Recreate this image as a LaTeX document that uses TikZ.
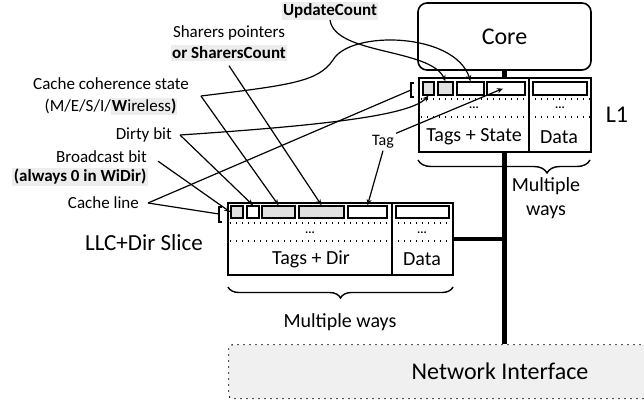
\documentclass[tikz,border=0pt]{standalone}
\usepackage{fontspec}
\setmainfont{Carlito}
\usetikzlibrary{arrows.meta,decorations.pathreplacing}
\definecolor{hlgray}{gray}{0.93}
\definecolor{cellgray}{gray}{0.88}
\definecolor{nigray}{gray}{0.94}
\setlength{\fboxsep}{1pt}

\begin{document}
\begin{tikzpicture}[x=1pt, y=-1pt,
    cell/.style={draw, line width=1.5pt, inner sep=0pt, minimum height=13pt},
    blk/.style={draw, line width=1.6pt, fill=white, inner sep=0pt},
    lbl/.style={font=\fontsize{17}{22}\selectfont, inner sep=2pt},
    big/.style={font=\fontsize{24}{28}\selectfont},
    mid/.style={font=\fontsize{20}{24}\selectfont},
    hl/.style={fill=hlgray, inner sep=1.5pt},
    dots/.style={line width=1.2pt, dash pattern=on 1.2pt off 4.8pt},
    wire/.style={line width=1.2pt},
    arr/.style={wire, -{Stealth[length=6pt, width=5pt]}},
    bus/.style={line width=4.5pt},
    brc/.style={decorate, line width=1.4pt}]
  \useasboundingbox (0,0) rectangle (644,407);

  % core, network interface and the bus
  \node[blk, rounded corners=9pt, minimum width=173pt, minimum height=67pt, big] (core) at (504.5,36.5) {Core};
  \node[draw, dots, fill=nigray, rounded corners=4pt, anchor=north west,
    minimum width=440pt, minimum height=54pt] (ni) at (228,344) {};
  \node[big] (nitxt) at (500,371) {Network Interface};
  \draw[bus] (core.south) -- (core.south |- ni.north);

  % L1
  \node[blk, minimum width=110pt, minimum height=74pt] (l1tags) at (474,115) {};
  \node[blk, minimum width=62pt, minimum height=74pt] (l1data) at (560,115) {};
  \draw[dots] (421,99) -- (590,99); \draw[dots] (421,117) -- (590,117);
  \node[font=\bfseries\fontsize{12}{12}\selectfont] at (474,108) {...};
  \node[font=\bfseries\fontsize{12}{12}\selectfont] at (560,108) {...};
  \node[mid] at (474,137) {Tags + State}; \node[mid] at (559,137) {Data};
  \node[big] (l1) at (617,115) {L1};

  % LLC slice
  \node[blk, minimum width=164pt, minimum height=72pt] (lctags) at (310,239) {};
  \node[blk, minimum width=61pt, minimum height=72pt] (lcdata) at (422.5,239) {};
  \draw[bus] (lcdata.east) -- (lcdata.east -| core.south);
  \draw[dots] (230,223) -- (452,223); \draw[dots] (230,241) -- (452,241);
  \node[font=\bfseries\fontsize{12}{12}\selectfont] at (310,233) {...};
  \node[font=\bfseries\fontsize{12}{12}\selectfont] at (422,233) {...};
  \node[mid] at (311,259) {Tags + Dir}; \node[mid] at (422,259) {Data};
  \node[font=\fontsize{23}{27}\selectfont] (llc) at (144,243) {LLC+Dir Slice};

  \begin{scope}[every node/.style={cell}]
    \node[fill=cellgray, minimum width=11pt] (l1a) at (428.5,88.5) {};
    \node[fill=cellgray, minimum width=15pt] (l1b) at (445.5,88.5) {};
    \node[minimum width=27pt] (l1c) at (470.5,88.5) {};
    \node[minimum width=38pt] (l1d) at (506,88.5) {};
    \node[minimum width=54pt] (l1e) at (560,88.5) {};
  \end{scope}
  \begin{scope}[every node/.style={cell, minimum height=12pt}]
    \node[fill=cellgray, minimum width=12pt] (lca) at (237,212) {};
    \node[minimum width=12pt] (lcb) at (253,212) {};
    \node[fill=cellgray, minimum width=33pt] (lcc) at (278.5,212) {};
    \node[fill=cellgray, minimum width=45pt] (lcd) at (321.5,212) {};
    \node[minimum width=39pt] (lce) at (367.5,212) {};
    \node[minimum width=53pt] (lcf) at (422.5,212) {};
  \end{scope}

  % brackets and braces
  \draw[wire] (414,83) -- (411,83) -- (411,97) -- (414,97);
  \coordinate (l1brk) at (411,90);
  \draw[wire] (222,207) -- (219,207) -- (219,222) -- (222,222);
  \coordinate (lcbrk) at (219,214);
  \draw[brc, decoration={brace, mirror, amplitude=13pt, aspect=0.75}] (418,160) -- (590,160);
  \draw[brc, decoration={brace, mirror, amplitude=11pt}] (228,287) -- (453,287);
  \node[mid, align=center, font=\fontsize{20}{24}\selectfont] (ways1) at (546,198) {Multiple\\ways};
  \node[mid] (ways2) at (340,322) {Multiple ways};

  % field labels
  \node[lbl, hl] (upd) at (330,11) {\textbf{UpdateCount}};
  \node[lbl] (shr) at (229,33) {Sharers pointers};
  \node[lbl, hl] (shrc) at (229,53) {\textbf{or SharersCount}};
  \node[lbl, align=center] (ccs) at (111,96)
    {Cache coherence state\\(M/E/S/I/\colorbox{hlgray}{\textbf{W}ireless\textbf{)}}};
  \node[lbl, anchor=east] (dirty) at (174,135) {Dirty bit};
  \node[lbl, anchor=east] (bc) at (149,157) {Broadcast bit};
  \node[lbl, hl, anchor=east] (bcw) at (148,177) {\textbf{(always 0 in WiDir)}};
  \node[lbl, anchor=east] (cl) at (141,203) {Cache line};
  \node[lbl, font=\fontsize{16}{20}\selectfont] (tag) at (383,142) {Tag};

  \draw[arr] (upd.south) .. controls (335,55) and (430,48) .. (l1b.north);
  \draw[arr] ([yshift=-5pt]shrc.south) -- (lcd.north);
  \draw[arr] ([xshift=10pt]ccs.east) -- (lcc.north);
  \draw[arr] ([xshift=10pt]ccs.east) .. controls (290,85) and (318,82) .. (333,60)
    .. controls (350,30) and (455,32) .. (l1c.north);
  \draw[arr] ([xshift=6pt]dirty.east) -- (lcb.north);
  \draw[arr] ([xshift=6pt]dirty.east) .. controls (330,125) and (410,115) .. (l1a.south);
  \draw[arr] ([shift={(9pt,4pt)}]bc.south east) -- (lca.west);
  \draw[wire] ([xshift=7pt]cl.east) -- (lcbrk);
  \draw[wire] ([xshift=7pt]cl.east) -- (l1brk);
  \draw[arr] (tag.north east) -- ([xshift=-3pt]l1d.center);
  \draw[arr] (tag.south) -- (lce.north);
\end{tikzpicture}
\end{document}
